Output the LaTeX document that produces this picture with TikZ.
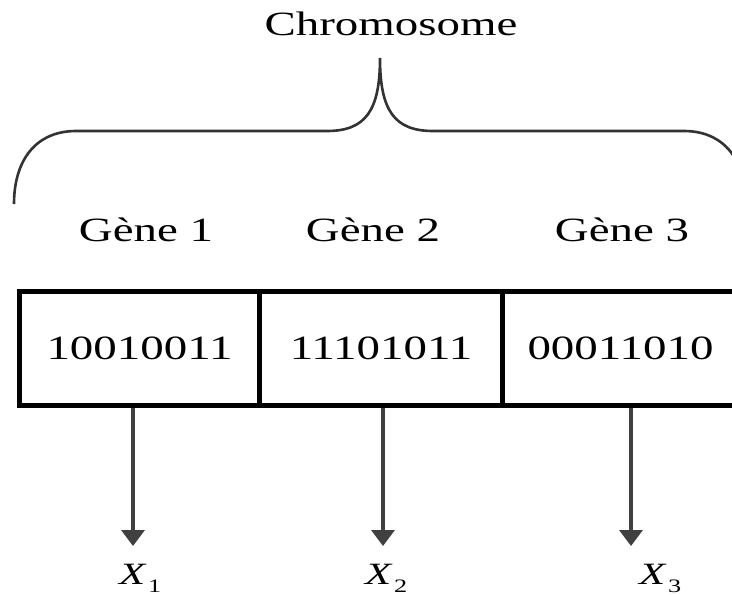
\documentclass[tikz,border=0pt]{standalone}
\usepackage{fontspec}
\usepackage{graphicx}
\setmainfont{Liberation Serif}
\usetikzlibrary{arrows.meta}
% wide serif lettering used throughout
\newcommand\widetxt[1]{\scalebox{1.38}[1]{#1}}
\newcommand\bigsz{\fontsize{34}{40}\selectfont}
\newcommand\varname[1]{\widetxt{\fontsize{31}{34}\selectfont\textit{X}\hspace{1pt}\raisebox{-8pt}{\fontsize{19}{22}\selectfont #1}}}
\begin{document}
\begin{tikzpicture}[x=1pt,y=-1pt,
  lbl/.style={inner sep=0pt,anchor=base,font=\bigsz},
  cell/.style={draw=black,line width=5pt,minimum height=114pt,inner sep=0pt,font=\bigsz},
  arr/.style={draw=black!75,line width=3.6pt,-{Triangle[length=16pt,width=23pt]}},
  brace/.style={draw=black!80,line width=2.6pt},
  var/.style={inner sep=0pt,anchor=base west}]
\useasboundingbox (0,0) rectangle (732,595);
\clip (0,0) rectangle (732,595);

% title and curly brace
\node[lbl] (chrom) at (391,35) {\widetxt{Chromosome}};
\draw[brace] (14,204) .. controls (14,160) and (36,131) .. (76,131) -- (327,131)
  .. controls (366,131) and (380,110) .. (380,58)
  .. controls (380,110) and (394,131) .. (433,131) -- (684,131)
  .. controls (724,131) and (746,160) .. (746,204);

% gene names
\node[lbl] (n1) at (146,241) {\widetxt{Gène 1}};
\node[lbl] (n2) at (373,241) {\widetxt{Gène 2}};
\node[lbl] (n3) at (622,241) {\widetxt{Gène 3}};

% the chromosome as three cells
\node[cell,minimum width=240pt] (g1) at (139.5,348) {\widetxt{10010011}};
\node[cell,minimum width=243pt] (g2) at (381,348) {\widetxt{11101011}};
\node[cell,minimum width=236pt] (g3) at (620.5,348) {\widetxt{00011010}};

% decoded variables
\coordinate (t1) at (133,546);
\coordinate (t2) at (383,546);
\coordinate (t3) at (631,546);
\node[var] (x1) at (119,584) {\varname{1}};
\node[var] (x2) at (365,584) {\varname{2}};
\node[var] (x3) at (639,584) {\varname{3}};

\draw[arr] (g1.south -| t1) -- (t1);
\draw[arr] (g2.south -| t2) -- (t2);
\draw[arr] (g3.south -| t3) -- (t3);
\end{tikzpicture}
\end{document}
